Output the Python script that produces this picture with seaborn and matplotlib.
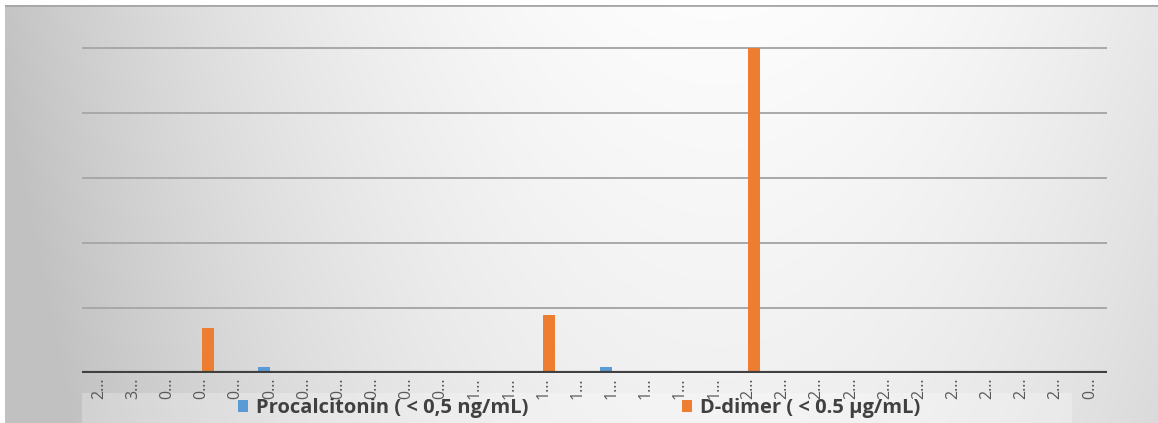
import matplotlib
matplotlib.use("Agg")
import matplotlib.pyplot as plt
from matplotlib.patches import Patch, Rectangle
import seaborn as sns
import pandas as pd
import numpy as np

# category labels as shown (truncated by the source chart)
categories = ["2…", "3…", "0…", "0…", "0…", "0…", "0…", "0…", "0…", "0…",
              "0…", "1…", "1…", "1…", "1…", "1…", "1…", "1…", "1…", "2…",
              "2…", "2…", "2…", "2…", "2…", "2…", "2…", "2…", "2…", "0…"]
procalcitonin = [0, 0, 0, 0, 0, 1, 0, 0, 0, 0,
                 0, 0, 0, 0, 0, 1, 0, 0, 0, 0,
                 0, 0, 0, 0, 0, 0, 0, 0, 0, 0]
ddimer = [0, 0, 0, 7, 0, 0, 0, 0, 0, 0,
          0, 0, 0, 9, 0, 0, 0, 0, 0, 50,
          0, 0, 0, 0, 0, 0, 0, 0, 0, 0]
series_names = ["Procalcitonin ( < 0,5 ng/mL)", "D-dimer ( < 0.5 µg/mL)"]
colors = {series_names[0]: "#5b9bd5", series_names[1]: "#ed7d31"}

sns.set_theme(style="white")
plt.rcParams['font.family'] = ['Open Sans', 'DejaVu Sans']

n = len(categories)
df = pd.DataFrame({
    "pos": list(range(n)) * 2,
    "series": [series_names[0]] * n + [series_names[1]] * n,
    "value": procalcitonin + ddimer,
})

W, H = 1158, 423
fig = plt.figure(figsize=(W / 100, H / 100), dpi=100)
fig.patch.set_facecolor("white")

# gradient background panel
bg = fig.add_axes([5 / W, 0, 1 - 5 / W, 1 - 5 / H])
xx = np.linspace(0, 1, 400)
yy = np.linspace(0, 1, 150)
X, Y = np.meshgrid(xx, yy)
light = 0.99 - 0.22 * ((X - 0.62) / 0.62) ** 2 - 0.05 * Y
light = np.clip(light, 0.76, 0.99)
bg.imshow(np.dstack([light, light, light]), aspect="auto", extent=[0, 1, 0, 1], origin="upper")
bg.axhline(1, color="#a6a6a6", lw=2)
bg.add_patch(Rectangle((77 / (W - 5), 0), (1072 - 82) / (W - 5), 30 / (H - 5),
                       facecolor="white", alpha=0.25, lw=0))
bg.set_xlim(0, 1)
bg.set_ylim(0, 1)
bg.axis("off")

ax = fig.add_axes([82 / W, 50 / H, (1107 - 82) / W, (373 - 35) / H])
ax.patch.set_alpha(0)
sns.barplot(data=df, x="pos", y="value", hue="series", palette=colors,
            saturation=1, width=0.7, dodge=True, linewidth=0, ax=ax, legend=False)
ax.set_ylim(0, 52)
ax.set_xlim(-0.5, n - 0.5)
ax.set_yticks([0, 10, 20, 30, 40, 50])
ax.set_yticklabels([])
ax.grid(axis="y", color="#a8a8a8", lw=1.4)
ax.set_axisbelow(True)
ax.axhline(0, color="#404040", lw=3, zorder=5)
ax.set_xticks(range(n))
ax.set_xticklabels(categories, rotation=90, fontsize=11.5, color="#595959")
ax.tick_params(length=0, pad=3)
ax.set_xlabel("")
ax.set_ylabel("")
sns.despine(ax=ax, left=True, bottom=True)

handles = [Patch(facecolor=colors[s], edgecolor="none") for s in series_names]
fig.legend(handles, series_names, loc="center", bbox_to_anchor=(0.50, 0.035),
           ncol=2, frameon=False, handlelength=0.5, handleheight=0.5,
           handletextpad=0.4, columnspacing=7.6,
           prop={"size": 14.5, "weight": "bold"}, labelcolor="#404040")

fig.savefig("out.png", dpi=100)
